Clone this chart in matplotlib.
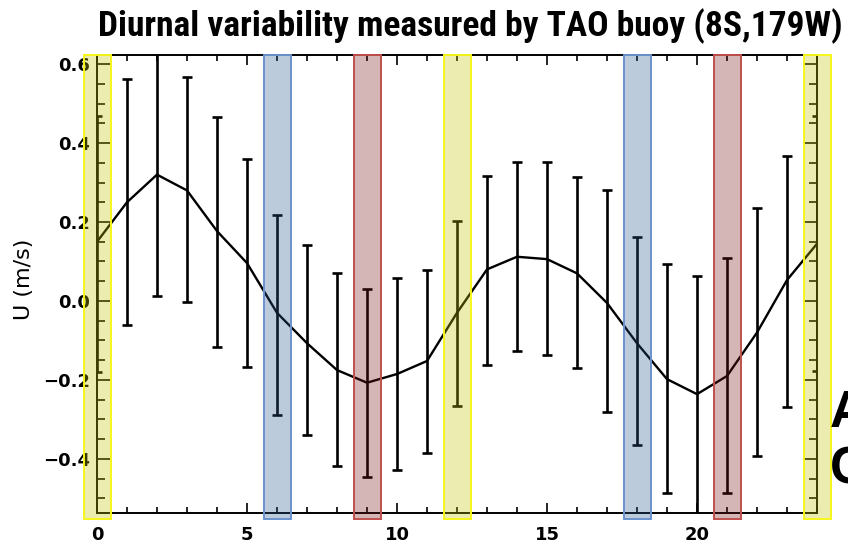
import numpy as np
import matplotlib
matplotlib.use("Agg")
import matplotlib.pyplot as plt
from matplotlib.patches import Rectangle
from matplotlib.ticker import MultipleLocator

plt.rcParams["font.weight"] = "bold"

# hourly mean zonal velocity and the ends of the error bars
hours = np.arange(0, 25)
u_mean = [0.15, 0.25, 0.32, 0.28, 0.177, 0.096, -0.03, -0.107, -0.175, -0.207,
          -0.185, -0.152, -0.03, 0.08, 0.112, 0.106, 0.07, -0.005, -0.107, -0.198,
          -0.236, -0.19, -0.08, 0.053, 0.145]
u_upper = [0.468, 0.562, 0.65, 0.567, 0.466, 0.36, 0.218, 0.142, 0.07, 0.03,
           0.058, 0.078, 0.203, 0.316, 0.352, 0.352, 0.314, 0.28, 0.162, 0.094,
           0.063, 0.109, 0.235, 0.367, 0.468]
u_lower = [-0.18, -0.061, 0.013, -0.002, -0.117, -0.168, -0.29, -0.34, -0.418, -0.445,
           -0.428, -0.385, -0.266, -0.163, -0.126, -0.138, -0.17, -0.28, -0.365, -0.487,
           -0.56, -0.487, -0.392, -0.268, -0.177]

# highlighted hours
band_hours = [0, 6, 9, 12, 18, 21, 24]
band_kind = ["yellow", "blue", "red", "yellow", "blue", "red", "yellow"]
band_face = {"yellow": (0.76, 0.76, 0.0), "blue": (0.16, 0.34, 0.56), "red": (0.47, 0.08, 0.08)}
band_edge = {"yellow": "#f7f71a", "blue": "#6a93cb", "red": "#c0504d"}

title = "Diurnal variability measured by TAO buoy (8S,179W)"

fig = plt.figure(figsize=(8.48, 5.44), dpi=100)
ax = fig.add_axes([97 / 848, 1 - 513 / 544, 720 / 848, 458 / 544])

u_mean = np.array(u_mean)
yerr = [u_mean - np.array(u_lower), np.array(u_upper) - u_mean]
ax.errorbar(hours, u_mean, yerr=yerr, fmt="none", ecolor="black", elinewidth=1.9,
            capsize=3.5, capthick=1.9, zorder=2)
ax.plot(hours, u_mean, color="black", lw=1.7, zorder=3)

ylo, yhi = -0.537, 0.623
ax.set_xlim(0, 24)
ax.set_ylim(ylo, yhi)

for h, k in zip(band_hours, band_kind):
    ax.add_patch(Rectangle((h - 0.43, ylo - 0.015), 0.9, yhi - ylo + 0.015,
                           facecolor=band_face[k] + (0.31,), edgecolor=band_edge[k],
                           lw=1.4, zorder=5, clip_on=False))

ax.xaxis.set_major_locator(MultipleLocator(5))
ax.xaxis.set_minor_locator(MultipleLocator(1))
ax.yaxis.set_major_locator(MultipleLocator(0.2))
ax.yaxis.set_minor_locator(MultipleLocator(0.05))
ax.tick_params(which="both", direction="in", top=True, right=True, width=1.2, labelsize=13)
ax.tick_params(axis="x", which="major", length=7, pad=9)
ax.tick_params(axis="x", which="minor", length=4)
ax.tick_params(axis="y", which="major", length=10, pad=5)
ax.tick_params(axis="y", which="minor", length=5.5)
ax.yaxis.set_major_formatter(plt.FuncFormatter(lambda v, p: f"{v:.1f}".replace("-", "\u2212")))
for sp in ax.spines.values():
    sp.set_linewidth(1.4)

ax.set_ylabel("U (m/s)", fontsize=16, fontweight="normal")
ax.yaxis.set_label_coords(-0.088, 0.51)

t = fig.text(470 / 848, 1 - 36 / 544, title, ha="center", va="baseline",
             fontsize=23, fontweight="bold",
             family=["Liberation Sans Narrow", "DejaVu Sans Condensed", "Roboto Condensed",
                     "Liberation Sans", "DejaVu Sans"])
fig.canvas.draw()
w = t.get_window_extent().width
t.set_fontsize(23 * 746 / w)

fig.text(830 / 848, 1 - 427 / 544, "A", fontsize=37, fontweight="bold",
         family="Liberation Sans", va="baseline")
fig.text(830 / 848, 1 - 483 / 544, "C", fontsize=37, fontweight="bold",
         family="Liberation Sans", va="baseline")

fig.savefig("out.png", dpi=100)
